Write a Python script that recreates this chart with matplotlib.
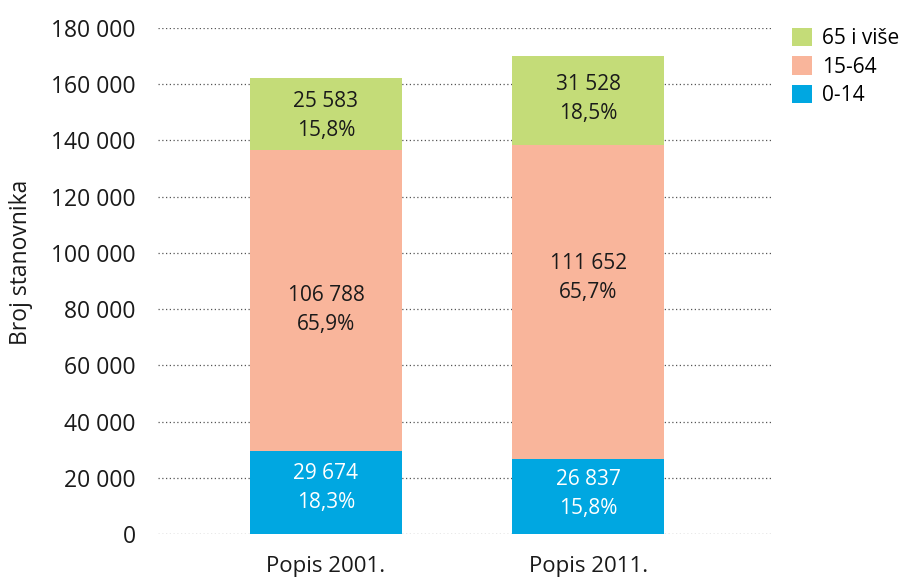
import matplotlib.pyplot as plt
import numpy as np

plt.rcParams["font.family"] = ["Open Sans", "DejaVu Sans"]

censuses = ["Popis 2001.", "Popis 2011."]
age_groups = ["0-14", "15-64", "65 i više"]
counts_0_14 = [29674, 26837]
counts_15_64 = [106788, 111652]
counts_65 = [25583, 31528]
shares_0_14 = ["18,3%", "15,8%"]
shares_15_64 = ["65,9%", "65,7%"]
shares_65 = ["15,8%", "18,5%"]
colors = ["#00a7e1", "#f9b59b", "#c4dc78"]
text_colors = ["white", "#1a1a1a", "#1a1a1a"]
y_ticks = np.arange(0, 180001, 20000)
# label nudges in points (the original places the middle labels off-centre)
label_nudge = [[3, 2], [-7, 17], [-1, 1]]


def fmt(v):
    return f"{v:,}".replace(",", " ")


fig = plt.figure(figsize=(9.03, 5.78), dpi=100)
ax = fig.add_axes([158 / 903, 1 - 534 / 578, 613 / 903, 506 / 578])

x = np.arange(len(censuses))
series = [counts_0_14, counts_15_64, counts_65]
shares = [shares_0_14, shares_15_64, shares_65]
bottom = np.zeros(len(censuses))
handles = []
for vals, pct, col, tcol, name, nudge in zip(series, shares, colors, text_colors,
                                             age_groups, label_nudge):
    bars = ax.bar(x, vals, width=0.58, bottom=bottom, color=col, label=name, zorder=2)
    handles.append(bars)
    for xi, b, v, p, dy in zip(x, bottom, vals, pct, nudge):
        ax.annotate(f"{fmt(v)}\n{p}", (xi, b + v / 2), xytext=(0, dy),
                    textcoords="offset points", ha="center", va="center",
                    color=tcol, fontsize=15, linespacing=1.5, zorder=3)
    bottom += np.array(vals)

ax.set_xlim(-0.641, 1.698)
ax.set_ylim(0, 180000)
ax.set_yticks(y_ticks)
ax.set_yticklabels([fmt(v) for v in y_ticks], fontsize=16.5)
ax.set_xticks(x)
ax.set_xticklabels(censuses, fontsize=16)
ax.tick_params(axis="both", length=0, colors="#1a1a1a")
ax.tick_params(axis="y", pad=16)
ax.tick_params(axis="x", pad=16)
ax.yaxis.grid(True, linestyle=(0, (1, 2)), color="#555555", linewidth=0.9, zorder=0)
for s in ax.spines.values():
    s.set_visible(False)
ax.set_ylabel("Broj stanovnika", fontsize=16.5, color="#1a1a1a")
ax.yaxis.set_label_coords((33 - 158) / 613, (534 - 262) / 506)

leg = fig.legend(handles[::-1], age_groups[::-1], loc="upper left",
                 bbox_to_anchor=(792 / 903, 1 - 28 / 578), frameon=False,
                 fontsize=15, handlelength=0.96, handleheight=0.96,
                 handletextpad=0.48, labelspacing=0.35, borderaxespad=0,
                 borderpad=0)

fig.savefig("out.png", dpi=100)
